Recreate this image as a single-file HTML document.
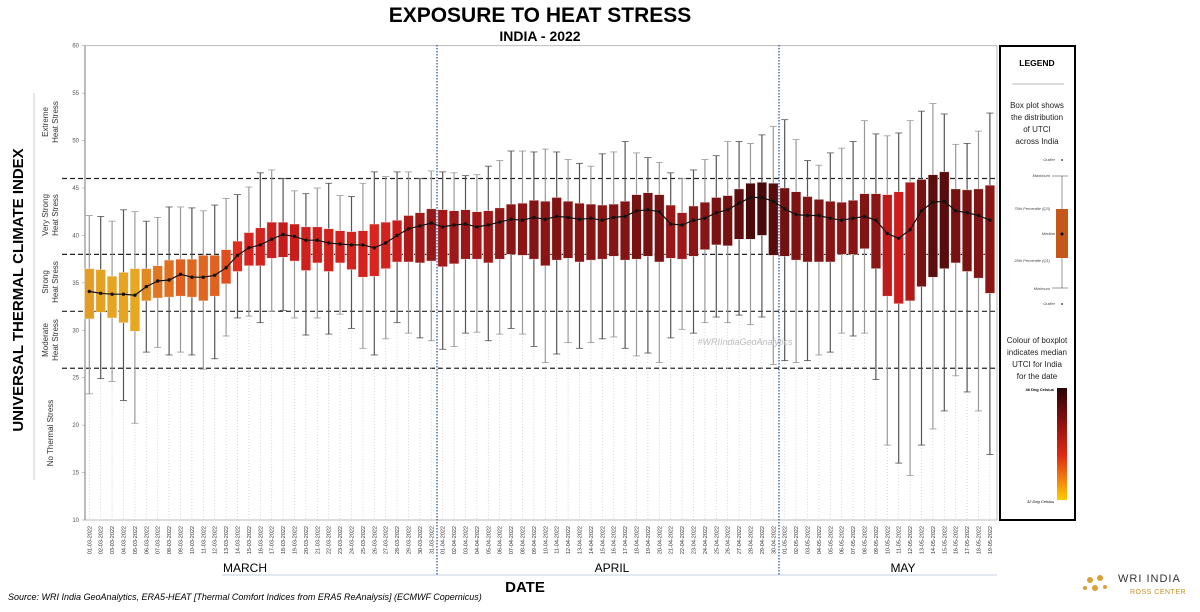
<!DOCTYPE html>
<html><head><meta charset="utf-8"><style>
body{margin:0;background:#fff;width:1200px;height:607px;overflow:hidden;font-family:"Liberation Sans",sans-serif}
</style></head><body>
<svg id="s" width="1200" height="607" xmlns="http://www.w3.org/2000/svg" font-family="Liberation Sans, sans-serif">
<text x="540" y="22" text-anchor="middle" font-size="21" font-weight="bold">EXPOSURE TO HEAT STRESS</text>
<text x="540" y="41" text-anchor="middle" font-size="14" font-weight="bold">INDIA - 2022</text>
<rect x="85" y="45.7" width="912" height="474.3" fill="none" stroke="#aaa" stroke-width="0.8"/>
<line x1="85" y1="45.7" x2="85" y2="520" stroke="#777" stroke-width="1"/>
<line x1="34" y1="93" x2="34" y2="480" stroke="#ccc" stroke-width="1"/>
<text transform="translate(23,290) rotate(-90)" text-anchor="middle" font-size="15" font-weight="bold">UNIVERSAL THERMAL CLIMATE INDEX</text>
<g font-size="8" fill="#333" text-anchor="middle">
<text transform="translate(48,122) rotate(-90)">Extreme</text><text transform="translate(58,122) rotate(-90)">Heat Stress</text>
<text transform="translate(48,215) rotate(-90)">Very Strong</text><text transform="translate(58,215) rotate(-90)">Heat Stress</text>
<text transform="translate(48,282) rotate(-90)">Strong</text><text transform="translate(58,282) rotate(-90)">Heat Stress</text>
<text transform="translate(48,340) rotate(-90)">Moderate</text><text transform="translate(58,340) rotate(-90)">Heat Stress</text>
<text transform="translate(53,433) rotate(-90)">No Thermal Stress</text>
</g>
<g id="g"></g>
<line x1="437" y1="45" x2="437" y2="575" stroke="#3355aa" stroke-width="1.3" stroke-dasharray="1.5,1.5"/>
<line x1="779" y1="45" x2="779" y2="575" stroke="#3355aa" stroke-width="1.3" stroke-dasharray="1.5,1.5"/>
<text x="745" y="345" text-anchor="middle" font-size="9" font-style="italic" fill="#bbb">#WRIIndiaGeoAnalytics</text>
<text x="245" y="572" text-anchor="middle" font-size="12">MARCH</text>
<text x="612" y="572" text-anchor="middle" font-size="12">APRIL</text>
<text x="903" y="572" text-anchor="middle" font-size="12">MAY</text>
<line x1="222" y1="575" x2="997" y2="575" stroke="#c5d0e0" stroke-width="1"/>
<text x="525" y="592" text-anchor="middle" font-size="15" font-weight="bold">DATE</text>
<text x="8" y="600" font-size="9" font-style="italic">Source: WRI India GeoAnalytics, ERA5-HEAT [Thermal Comfort Indices from ERA5 ReAnalysis] (ECMWF Copernicus)</text>
<rect x="1000" y="46" width="75" height="474" fill="#fff" stroke="#000" stroke-width="2"/>
<text x="1037" y="66" text-anchor="middle" font-size="8.5" font-weight="bold">LEGEND</text>
<line x1="1012" y1="84" x2="1064" y2="84" stroke="#bbb"/>
<g font-size="8" text-anchor="middle" fill="#222">
<text x="1037" y="108">Box plot shows</text><text x="1037" y="120">the distribution</text><text x="1037" y="132">of UTCI</text><text x="1037" y="144">across India</text>
<text x="1037" y="343">Colour of boxplot</text><text x="1037" y="355">indicates median</text><text x="1037" y="367">UTCI for India</text><text x="1037" y="379">for the date</text>
</g>
<g font-size="4" font-style="italic" fill="#444" text-anchor="end">
<text x="1055" y="161">Outlier</text><text x="1050" y="177">Maximum</text><text x="1050" y="210">75th Percentile (Q3)</text>
<text x="1055" y="235">Median</text><text x="1050" y="262">25th Percentile (Q1)</text><text x="1050" y="290">Minimum</text><text x="1055" y="305">Outlier</text>
</g>
<circle cx="1062" cy="160" r="1" fill="#555"/><circle cx="1062" cy="304" r="1" fill="#555"/>
<line x1="1062" y1="176" x2="1062" y2="288" stroke="#555" stroke-width="0.6"/>
<line x1="1052" y1="176" x2="1068" y2="176" stroke="#555" stroke-width="0.6"/>
<line x1="1052" y1="288" x2="1068" y2="288" stroke="#555" stroke-width="0.6"/>
<rect x="1056" y="209" width="12" height="49" fill="#c4581a"/>
<circle cx="1062" cy="234" r="1.5" fill="#000"/>
<defs><linearGradient id="cb" x1="0" y1="0" x2="0" y2="1"><stop offset="0" stop-color="#2a0505"/><stop offset="0.3" stop-color="#8a1010"/><stop offset="0.6" stop-color="#e02a10"/><stop offset="0.8" stop-color="#f07a10"/><stop offset="1" stop-color="#ffcc00"/></linearGradient></defs>
<rect x="1057" y="388" width="10" height="112" fill="url(#cb)"/>
<text x="1054" y="391" font-size="4" font-weight="bold" text-anchor="end">46 Deg Celsius</text>
<text x="1054" y="503" font-size="4" font-style="italic" text-anchor="end">32 Deg Celsius</text>
<text x="1118" y="582" font-size="11" fill="#333" letter-spacing="1">WRI INDIA</text>
<text x="1130" y="594" font-size="7" fill="#c89020" letter-spacing="0.5">ROSS CENTER</text>
<g fill="#d9a03a"><circle cx="1090" cy="580" r="3"/><circle cx="1100" cy="578" r="3"/><circle cx="1095" cy="588" r="3"/><circle cx="1085" cy="588" r="2"/><circle cx="1105" cy="587" r="2"/></g>
</svg>
<script>
var D=[[42.1,36.5,34.1,31.2,23.3],[42.0,36.4,33.9,31.9,24.9],[41.5,35.7,33.8,31.3,24.6],[42.7,36.1,33.8,30.8,22.6],[42.5,36.5,33.7,29.9,20.2],[41.5,36.5,34.6,33.1,27.7],[41.9,36.8,35.2,33.4,28.2],[43.0,37.4,35.3,33.5,27.4],[43.0,37.5,35.9,33.6,27.7],[42.9,37.5,35.6,33.5,27.4],[42.6,37.9,35.6,33.1,25.9],[43.2,37.9,35.8,33.6,27.0],[43.9,38.5,36.6,34.9,29.4],[44.3,39.4,37.9,36.2,31.3],[45.1,40.3,38.7,36.8,31.5],[46.6,40.8,39.0,36.8,30.8],[46.9,41.4,39.6,37.6,32.0],[46.0,41.4,40.1,37.7,32.1],[44.7,41.2,39.9,37.3,31.3],[44.4,40.9,39.5,36.3,29.5],[45.0,40.9,39.5,37.1,31.3],
[45.5,40.7,39.2,36.2,29.6],[44.2,40.5,39.1,37.1,31.7],[44.1,40.4,39.0,36.4,30.2],[45.5,40.5,39.0,35.6,28.1],[46.7,41.2,38.7,35.7,27.4],[46.2,41.4,39.2,36.5,29.1],[46.7,41.6,40.0,37.2,30.8],[46.7,42.1,40.7,37.2,29.7],[46.0,42.4,41.0,37.1,29.2],[46.8,42.8,41.3,37.3,28.9],[46.7,42.7,40.9,36.7,28.0],[46.6,42.6,41.1,37.0,28.3],[46.3,42.7,41.2,37.5,29.7],[46.4,42.5,40.9,37.5,29.8],[47.3,42.6,41.1,37.1,28.9],[47.9,42.9,41.4,37.5,29.6],[48.9,43.3,41.7,38.0,30.2],[48.9,43.4,41.6,37.9,29.6],[48.8,43.7,41.9,37.5,28.3],[49.1,43.6,41.7,36.8,26.6],
[48.8,44.0,42.0,37.4,27.5],[48.0,43.6,41.9,37.6,28.7],[47.6,43.4,41.7,37.2,28.1],[47.3,43.3,41.8,37.4,28.7],[48.6,43.2,41.6,37.5,29.1],[48.8,43.3,41.9,37.8,29.3],[49.9,43.6,42.0,37.4,28.1],[48.7,44.3,42.6,37.5,27.3],[48.2,44.5,42.7,37.8,27.6],[47.7,44.3,42.5,37.2,26.6],[46.6,43.2,41.2,37.6,29.2],[46.0,42.4,41.1,37.5,30.1],[46.9,43.1,41.6,37.8,29.7],[48.0,43.5,41.8,38.5,30.8],[48.4,44.0,42.4,39.0,31.4],[49.9,44.2,42.7,38.9,30.8],[49.9,44.9,43.4,39.6,31.6],[49.7,45.5,44.0,39.6,30.6],[50.6,45.6,44.0,40.0,31.4],[51.5,45.5,43.6,37.9,26.4],
[52.2,45.0,42.8,37.8,26.8],[50.1,44.6,42.2,37.4,26.6],[47.9,44.1,42.1,37.2,26.8],[47.4,43.8,42.1,37.2,27.4],[48.7,43.6,41.8,37.2,27.7],[49.2,43.5,41.6,38.0,29.7],[49.9,43.7,41.8,38.0,29.4],[52.1,44.4,42.0,38.6,29.7],[50.7,44.4,41.6,36.5,24.8],[50.5,44.3,40.2,33.6,17.9],[50.8,44.6,39.7,32.8,16.0],[52.1,45.6,40.6,33.1,14.7],[53.1,45.9,42.6,34.6,17.9],[53.9,46.4,43.5,35.6,19.6],[52.8,46.7,43.6,36.5,21.5],[49.6,44.9,42.6,37.1,25.2],[49.7,44.8,42.4,36.2,23.5],[51.0,44.9,42.1,35.5,21.5],[52.9,45.3,41.6,33.9,16.9]];
function Y(v){return 45.7+(60-v)*9.486}
function X(i){return 89.3+i*11.4}
var stops=[[32,[255,204,0]],[34,[227,160,36]],[35.5,[224,106,32]],[38,[224,42,32]],[40,[200,28,28]],[41.5,[142,22,22]],[43,[110,16,16]],[44,[74,10,10]],[46,[42,5,5]]];
function col(v){for(var k=0;k<stops.length-1;k++){var a=stops[k],b=stops[k+1];if(v<=b[0]){var t=Math.max(0,(v-a[0])/(b[0]-a[0]));return 'rgb('+a[1].map(function(c,j){return Math.round(c+(b[1][j]-c)*t)}).join(',')+')'}}return 'rgb(42,5,5)'}
var h='';
for(var v=10;v<=60;v+=5){h+='<text x="79" y="'+(Y(v)+2)+'" font-size="6" fill="#555" text-anchor="end">'+v+'</text><line x1="82" x2="85" y1="'+Y(v)+'" y2="'+Y(v)+'" stroke="#888" stroke-width="0.5"/>';}
[46,38,32,26].forEach(function(v){h+='<line x1="62" x2="997" y1="'+Y(v)+'" y2="'+Y(v)+'" stroke="#222" stroke-width="1.2" stroke-dasharray="5,3"/>';});
var pts=[];
function dd(n){return (n<10?'0':'')+n}
for(var i=0;i<D.length;i++){var d=D[i],x=X(i);
h+='<line x1="'+x+'" x2="'+x+'" y1="'+Y(d[4])+'" y2="520" stroke="#ccc" stroke-width="0.8" stroke-dasharray="1,2"/>';
var wc=i%2?'#555':'#999';
h+='<line x1="'+x+'" x2="'+x+'" y1="'+Y(d[0])+'" y2="'+Y(d[4])+'" stroke="'+wc+'" stroke-width="1.2"/>';
h+='<line x1="'+(x-3.5)+'" x2="'+(x+3.5)+'" y1="'+Y(d[0])+'" y2="'+Y(d[0])+'" stroke="'+wc+'" stroke-width="0.8"/>';
h+='<line x1="'+(x-3.5)+'" x2="'+(x+3.5)+'" y1="'+Y(d[4])+'" y2="'+Y(d[4])+'" stroke="'+wc+'" stroke-width="0.8"/>';
h+='<rect x="'+(x-4.8)+'" y="'+Y(d[1])+'" width="9.6" height="'+(Y(d[3])-Y(d[1]))+'" fill="'+col(d[2])+'" stroke="#eee" stroke-width="0.4"/>';
pts.push(x+','+Y(d[2]).toFixed(1));
var day,mon;if(i<31){day=i+1;mon=3}else if(i<61){day=i-30;mon=4}else{day=i-60;mon=5}
h+='<text transform="translate('+(x+2)+',526) rotate(-90)" font-size="5.5" fill="#333" text-anchor="end">'+dd(day)+'-'+dd(mon)+'-2022</text>';}
h+='<polyline points="'+pts.join(' ')+'" fill="none" stroke="#111" stroke-width="1.2"/>';
pts.forEach(function(p){var a=p.split(',');h+='<circle cx="'+a[0]+'" cy="'+a[1]+'" r="1.7" fill="#111"/>';});
document.getElementById('g').innerHTML=h;
</script>
</body></html>
